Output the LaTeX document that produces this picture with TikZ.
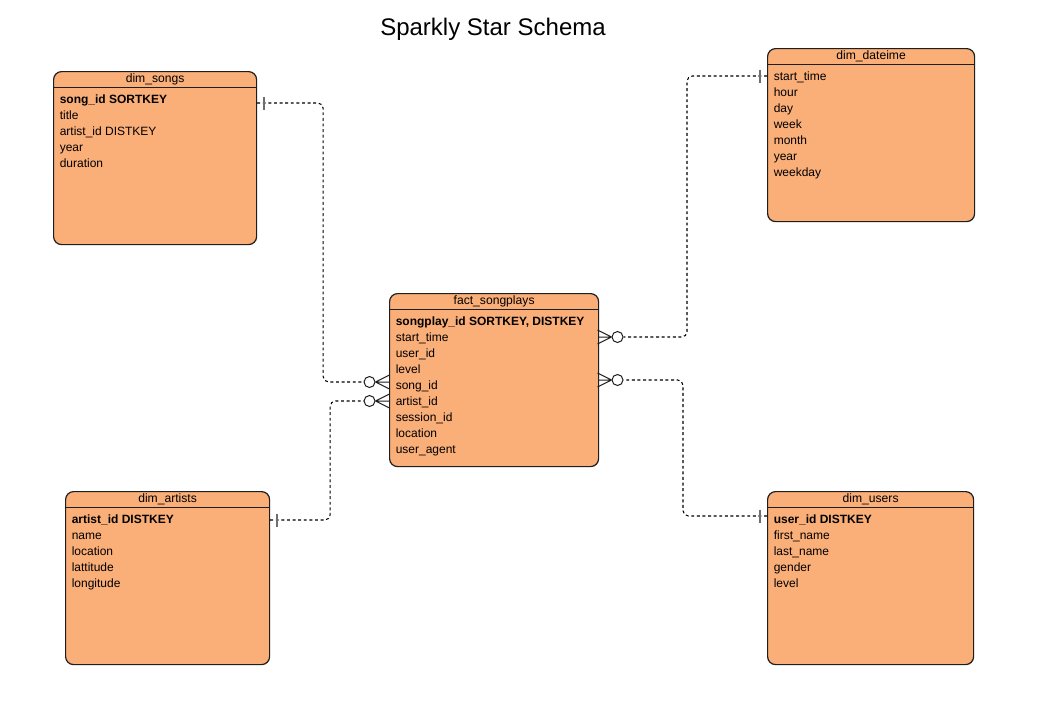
\documentclass[tikz,border=0pt]{standalone}
\usepackage{fontspec}
\setmainfont{Liberation Sans}
\usetikzlibrary{positioning,calc}
\definecolor{peach}{RGB}{250,174,120}
\definecolor{ink}{RGB}{30,30,30}
\definecolor{barg}{RGB}{110,110,110}
\begin{document}
\begin{tikzpicture}[
  x=0.75pt,y=-0.75pt,
  tbl/.style={draw=ink,fill=peach,line width=0.9pt,rounded corners=6pt,anchor=north west,minimum height=129.75pt,inner sep=0pt},
  hdr/.style={font=\fontsize{9.1}{11}\selectfont,inner sep=0pt},
  rows/.style={anchor=north west,align=left,inner sep=0pt,font=\fontsize{9}{12}\selectfont},
  sep/.style={draw=ink,line width=0.75pt},
  rel/.style={draw=black,dash pattern=on 2.2pt off 2pt,line width=0.8pt,rounded corners=4pt},
  onebar/.style={draw=barg,line width=1.3pt},
  zcirc/.style={circle,draw=ink,fill=white,line width=0.75pt,minimum size=8.25pt,inner sep=0pt},
  crow/.style={draw=ink,line width=0.75pt},
]
\useasboundingbox[fill=white] (0,0) rectangle (1052,714);
\node[font=\fontsize{18}{22}\selectfont] (title) at (493,29) {Sparkly Star Schema};
% tables
\node[tbl,minimum width=152.25pt] (songs) at (53,71) {};
\node[tbl,minimum width=155.25pt] (dateime) at (767,48) {};
\node[tbl,minimum width=156.75pt] (fact) at (389,293) {};
\node[tbl,minimum width=153pt] (artists) at (65,491) {};
\node[tbl,minimum width=154.5pt] (users) at (767,491) {};
% headers
\foreach \t/\l in {songs/dim\_songs,dateime/dim\_dateime,fact/fact\_songplays,artists/dim\_artists,users/dim\_users}{
  \node[hdr] (\t-hd) at ($(\t.north)+(0,8)$) {\l};
  \draw[sep] ($(\t.north west)+(0,16)$) -- ($(\t.north east)+(0,16)$);
}
% columns
\node[rows] (songs-cols) at ($(songs.north west)+(6.5,24)$) {\textbf{song\_id SORTKEY}\\title\\artist\_id DISTKEY\\year\\duration};
\node[rows] (dateime-cols) at ($(dateime.north west)+(6.5,23.5)$) {start\_time\\hour\\day\\week\\month\\year\\weekday};
\node[rows] (fact-cols) at ($(fact.north west)+(6.5,23.5)$) {\textbf{songplay\_id SORTKEY, DISTKEY}\\start\_time\\user\_id\\level\\song\_id\\artist\_id\\session\_id\\location\\user\_agent};
\node[rows] (artists-cols) at ($(artists.north west)+(6.5,24)$) {\textbf{artist\_id DISTKEY}\\name\\location\\lattitude\\longitude};
\node[rows] (users-cols) at ($(users.north west)+(6.5,24)$) {\textbf{user\_id DISTKEY}\\first\_name\\last\_name\\gender\\level};
% zero-or-many ends on the fact table
\node[zcirc] (zs) at (369.5,382) {};
\node[zcirc] (za) at (369.5,401) {};
\node[zcirc] (zd) at (617.5,337) {};
\node[zcirc] (zu) at (617.5,380) {};
% relations
\draw[rel] (songs.east |- 0,103) -- ++(66,0) |- (zs.west);
\draw[rel] (artists.east |- 0,520) -- ++(60,0) |- (za.west);
\draw[rel] (dateime.west |- 0,76) -- ++(-80,0) |- (zd.east);
\draw[rel] (users.west |- 0,516) -- ++(-84,0) |- (zu.east);
% one ends
\draw[onebar] (songs.east |- 0,103) ++(7,-6.5) -- ++(0,13);
\draw[onebar] (artists.east |- 0,520) ++(7,-6.5) -- ++(0,13);
\draw[onebar] (dateime.west |- 0,76) ++(-7,-6.5) -- ++(0,13);
\draw[onebar] (users.west |- 0,516) ++(-7,-6.5) -- ++(0,13);
% crow feet
\draw[crow] (zs.east) -- (fact.west |- zs) (zs.east) -- ++(14,-7) (zs.east) -- ++(14,7);
\draw[crow] (za.east) -- (fact.west |- za) (za.east) -- ++(14,-7) (za.east) -- ++(14,7);
\draw[crow] (zd.west) -- (fact.east |- zd) (zd.west) -- ++(-14,-7) (zd.west) -- ++(-14,7);
\draw[crow] (zu.west) -- (fact.east |- zu) (zu.west) -- ++(-14,-7) (zu.west) -- ++(-14,7);
\end{tikzpicture}
\end{document}
